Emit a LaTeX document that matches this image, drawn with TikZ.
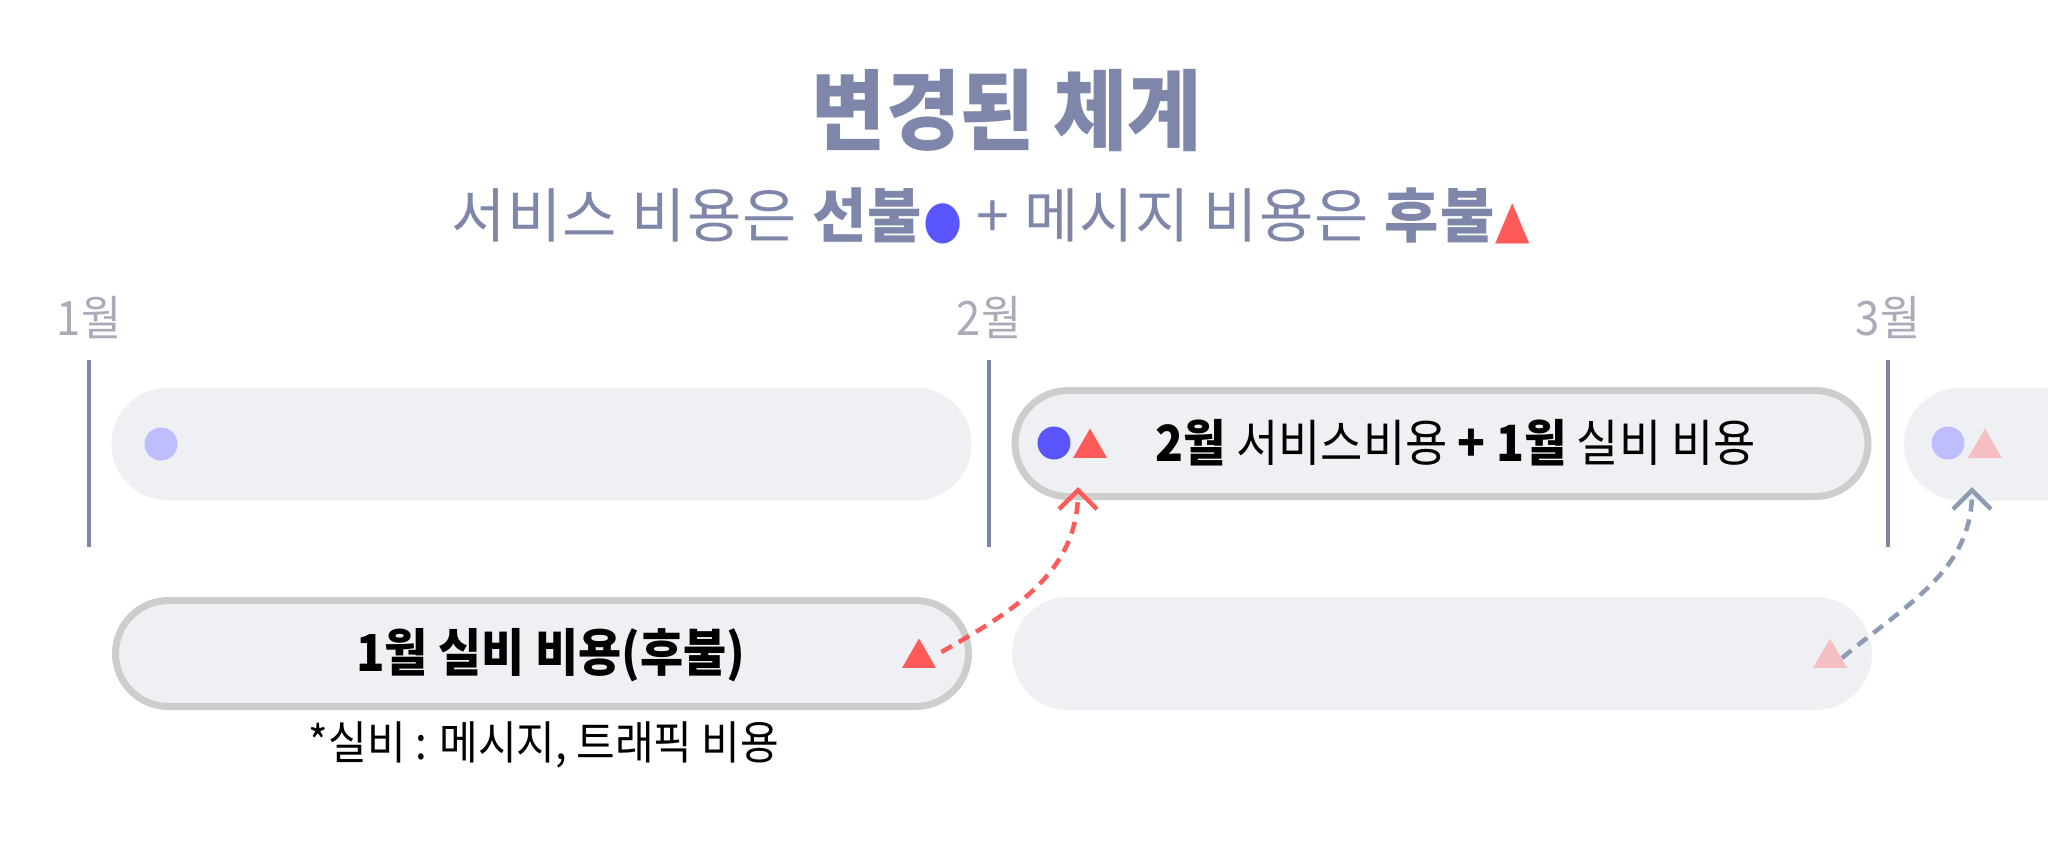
\documentclass[tikz,border=0pt]{standalone}
\usepackage{fontspec}
\usetikzlibrary{arrows.meta,shapes.geometric,shapes.misc}
\setmainfont{Noto Sans CJK KR}
\newfontfamily\krfont[FakeStretch=0.92]{Noto Sans CJK KR}
\newfontfamily\subfont[LetterSpace=2]{Noto Sans CJK KR}
\newfontfamily\symfont[FakeStretch=0.85]{DejaVu Sans}
\definecolor{slate}{HTML}{7E86AA}
\definecolor{monthgrey}{HTML}{A9ABB8}
\definecolor{barfill}{HTML}{EFF0F4}
\definecolor{bordergrey}{HTML}{CDCDCD}
\definecolor{dotblue}{HTML}{5B55FF}
\definecolor{dotlight}{HTML}{BDBDFF}
\definecolor{trired}{HTML}{FF5A5A}
\definecolor{trilight}{HTML}{F5BEC3}
\definecolor{arrowgrey}{HTML}{8D9BB3}
\begin{document}
\begin{tikzpicture}[
    bar/.style={rounded rectangle, fill=barfill, inner sep=0pt,
      minimum width=8.60cm, minimum height=1.13cm},
    barline/.style={bar, draw=bordergrey, line width=0.07cm,
      minimum width=8.53cm, minimum height=1.06cm},
    dot/.style={circle, inner sep=0pt, minimum size=0.33cm},
    tri/.style={regular polygon, regular polygon sides=3, inner sep=0pt, minimum size=0.39cm},
    month/.style={text=monthgrey, font=\krfont\fontsize{13.5}{16}\selectfont},
    monthline/.style={draw=slate, line width=0.04cm},
    link/.style={line width=0.045cm, dash pattern=on 0.12cm off 0.08cm,
      -{Straight Barb[length=0.19cm,width=0.38cm]}}
  ]
  \useasboundingbox (0,0) rectangle (20.48,-8.62);
  \fill[white] (0,0) rectangle (20.48,-8.62);

  % heading
  \node[text=slate, font=\krfont\bfseries\fontsize{25}{30}\selectfont] (title) at (10.07,-1.10) {변경된 체계};
  \node[text=slate, font=\subfont\fontsize{16.8}{20}\selectfont] (sub) at (9.91,-2.16)
    {서비스 비용은 \textbf{선불}{\symfont\fontsize{15}{16}\selectfont\color{dotblue}●} + 메시지 비용은 \textbf{후불}{\symfont\fontsize{15}{16}\selectfont\color{trired}▲}};

  % months
  \foreach \x/\m in {0.89/1, 9.89/2, 18.88/3} {
    \node[month] (m\m) at (\x,-3.18) {{\m}월};
    \draw[monthline] (\x,-3.60) -- (\x,-5.47);
  }

  % top row
  \node[bar] (bar1) at (5.415,-4.44) {};
  \node[barline] (bar2) at (14.415,-4.435) {};
  \node[bar] (bar3) at (23.34,-4.44) {};
  \node[dot, fill=dotlight] (d1) at (1.61,-4.44) {};
  \node[dot, fill=dotblue] (d2) at (10.54,-4.43) {};
  \node[tri, fill=trired] (t2) at (10.90,-4.48) {};
  \node[dot, fill=dotlight] (d3) at (19.48,-4.43) {};
  \node[tri, fill=trilight] (t3) at (19.85,-4.48) {};
  \node[font=\krfont\fontsize{14.2}{17}\selectfont] (txt2) at (14.56,-4.43)
    {\textbf{2월} 서비스비용 \textbf{+ 1월} 실비 비용};

  % bottom row
  \node[barline] (barA) at (5.42,-6.535) {};
  \node[bar] (barB) at (14.42,-6.535) {};
  \node[tri, fill=trired] (tA) at (9.19,-6.58) {};
  \node[tri, fill=trilight] (tB) at (18.30,-6.58) {};
  \node[font=\krfont\bfseries\fontsize{14.5}{17}\selectfont] (txtA) at (5.51,-6.55) {1월 실비 비용(후불)};
  \node[font=\krfont\fontsize{13}{16}\selectfont] (note) at (5.44,-7.45) {*실비 : 메시지, 트래픽 비용};

  % carried over
  \coordinate (upA) at (10.78,-4.87);
  \coordinate (upB) at (19.72,-4.87);
  \draw[link, draw=trired, shorten <=0.12cm] (tA.east) to[out=30, in=-90] (upA);
  \draw[link, draw=arrowgrey] (tB.east) to[out=40, in=-90] (upB);
\end{tikzpicture}
\end{document}
